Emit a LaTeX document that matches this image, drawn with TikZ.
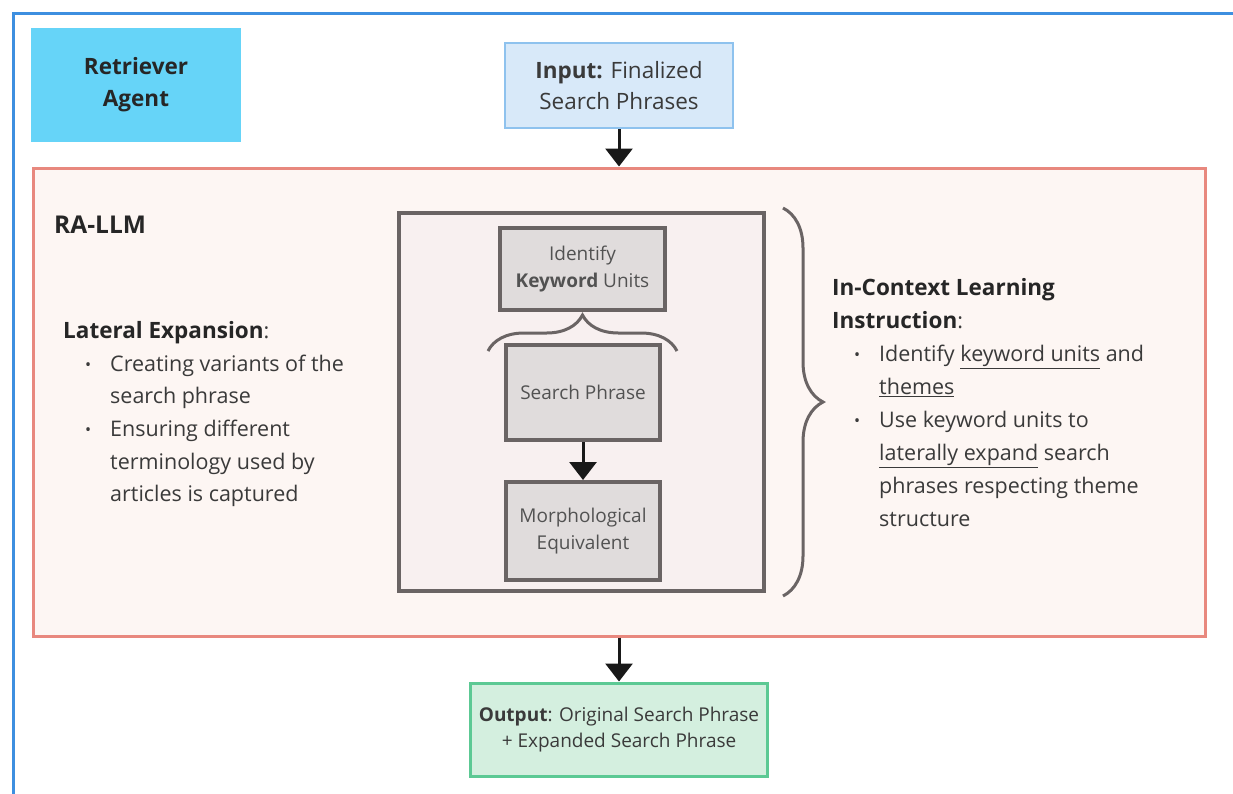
\documentclass[tikz,border=0pt]{standalone}
\usepackage{fontspec}
\setmainfont{Open Sans}
\usetikzlibrary{arrows.meta,positioning,decorations.pathreplacing}

\definecolor{framebl}{HTML}{3D8FE0}
\definecolor{agentfill}{HTML}{66D4F8}
\definecolor{infill}{HTML}{D8E9F9}
\definecolor{indraw}{HTML}{8EC2EE}
\definecolor{llmdraw}{HTML}{E8887E}
\definecolor{llmfill}{HTML}{FDF6F3}
\definecolor{cotdraw}{HTML}{6A6464}
\definecolor{cotfill}{HTML}{F8F0F0}
\definecolor{stepfill}{HTML}{E0DCDC}
\definecolor{outfill}{HTML}{D4EFDF}
\definecolor{outdraw}{HTML}{5CC994}
\definecolor{txt}{HTML}{3A3A3A}

\newcommand{\itembul}{\hspace*{22pt}\makebox[25pt][l]{\raisebox{1pt}{\scalebox{0.75}{\textbullet}}}}
\newcommand{\itemcont}{\hspace*{47pt}}

\begin{document}
\begin{tikzpicture}[x=1pt,y=-1pt,>={Triangle[width=27pt,length=18pt]},
                    node distance=38pt,
                    agentbox/.style={fill=agentfill,minimum width=210pt,minimum height=114pt,align=center,
                                     font=\bfseries\fontsize{22.5}{32}\selectfont,text=black!85},
                    inbox/.style={draw=indraw,fill=infill,line width=2pt,minimum width=228pt,minimum height=85pt,
                                  align=center,font=\fontsize{22.5}{31}\selectfont,text=txt},
                    llmbox/.style={draw=llmdraw,fill=llmfill,line width=3pt,minimum width=1172pt,minimum height=468pt},
                    cotbox/.style={draw=cotdraw,fill=cotfill,line width=4pt,minimum width=365pt,minimum height=378pt},
                    stepbox/.style={draw=cotdraw,fill=stepfill,line width=4pt,minimum width=154pt,align=center,
                                    font=\fontsize{19}{27}\selectfont,text=black!68},
                    outbox/.style={draw=outdraw,fill=outfill,line width=3pt,minimum width=297pt,minimum height=93pt,
                                   align=center,font=\fontsize{19}{26}\selectfont,text=txt},
                    notes/.style={align=left,anchor=north west,inner sep=0pt,text=txt},
                    flow/.style={->,line width=3pt,black!90},
                    curly/.style={draw=cotdraw,line width=3pt,decorate}]

  \useasboundingbox (0,0) rectangle (1233,793);
  \fill[white] (0,0) rectangle (1233,793);
  \clip (0,0) rectangle (1233,793);
  \draw[framebl,line width=3pt] (13,810) |- (1250,13);

  \node[agentbox] (agent) at (136,85) {Retriever\\Agent};
  \node[inbox]    (input) at (619,85.5) {\textbf{Input:} Finalized\\Search Phrases};

  \node[llmbox]   (llm) at (619,402) {};
  \node[cotbox]   (cot) at (581.5,402) {};

  \node[stepbox,minimum width=165pt,minimum height=82pt] (keyword) at (582.5,269)
       {Identify\\\textbf{Keyword} Units};
  \node[stepbox,minimum height=95pt] (search) at (583,392.5) {Search Phrase};
  \node[stepbox,minimum height=98pt] (morph) [below=of search] {Morphological\\Equivalent};

  \node[outbox]   (output) [below=44pt of llm] {\textbf{Output}: Original Search Phrase\\+ Expanded Search Phrase};

  \node[anchor=west,inner sep=0pt,font=\bfseries\fontsize{24.5}{28}\selectfont,text=black!85] (rallm) at (54,225) {RA-LLM};

  \node[notes,font=\fontsize{21.5}{32.7}\selectfont] (lateral) at (63,321)
       {{\color{black!85}\bfseries\fontsize{22.5}{32.7}\selectfont Lateral Expansion}:\\
        \itembul Creating variants of the\\
        \itemcont search phrase\\
        \itembul Ensuring different\\
        \itemcont terminology used by\\
        \itemcont articles is captured};

  \node[notes,font=\fontsize{21.5}{33}\selectfont] (icl) at (832,278)
       {{\color{black!85}\bfseries\fontsize{22.5}{33}\selectfont In-Context Learning}\\
        {\color{black!85}\bfseries\fontsize{22.5}{33}\selectfont Instruction}:\\
        \itembul Identify \underline{keyword units} and\\
        \itemcont \underline{themes}\\
        \itembul Use keyword units to\\
        \itemcont \underline{laterally expand} search\\
        \itemcont phrases respecting theme\\
        \itemcont structure};

  \coordinate (hb1) at (488,351);
  \coordinate (hb2) at (677,351);
  \coordinate (vb1) at (783,208);
  \coordinate (vb2) at (783,596);
  \draw[curly,decoration={brace,amplitude=36pt}] (hb1) -- (hb2);
  \draw[curly,decoration={brace,amplitude=40pt}] (vb1) -- (vb2);

  \draw[flow] (input) -- (llm);
  \draw[flow] (search) -- (morph);
  \draw[flow] (llm) -- (output);

\end{tikzpicture}
\end{document}
